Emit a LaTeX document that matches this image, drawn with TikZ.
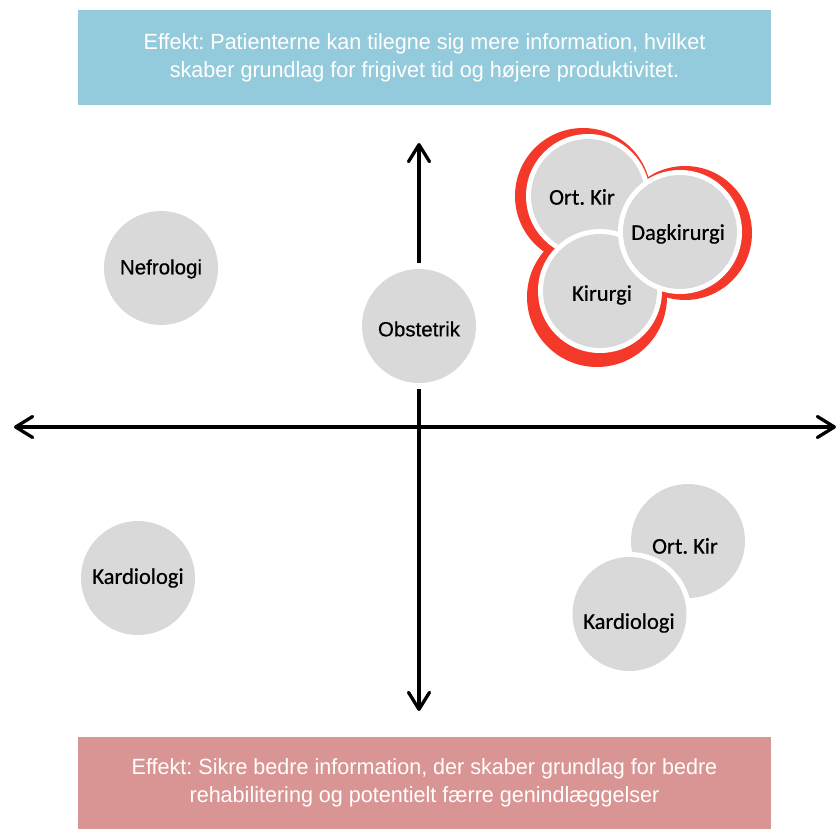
\documentclass[tikz,border=0pt]{standalone}
\usepackage{fontspec}
\setmainfont{Carlito}
\newfontfamily\labelfont{Carlito}[FakeBold=0.5]
\newfontfamily\grotesk{Liberation Sans}[FakeBold=0.5]
\newfontfamily\boxfont{Liberation Sans}[FakeStretch=0.98]
\usetikzlibrary{arrows.meta}
\frenchspacing

\definecolor{topbox}{HTML}{93CBDC}
\definecolor{botbox}{HTML}{D89594}
\definecolor{bubble}{HTML}{D9D9D9}
\definecolor{ring}{HTML}{F4392B}

\tikzset{
  effectbox/.style={fill=#1, draw=none, minimum width=693pt, inner sep=0pt,
    text=white, align=center, font=\boxfont\fontsize{22}{28}\selectfont},
  axis/.style={line width=3.3pt, line cap=round,
    {Straight Barb[length=17pt,width=21pt,line join=round,line cap=round]}-{Straight Barb[length=17pt,width=21pt,line join=round,line cap=round]}},
  bubblenode/.style={circle, fill=bubble, draw=none, minimum size=114pt, inner sep=0pt},
  lbl/.style={font=\labelfont\fontsize{22.5}{26}\selectfont, text=black, inner sep=0pt},
  glbl/.style={font=\grotesk\fontsize{20.5}{24}\selectfont, text=black, inner sep=0pt},
}

\begin{document}
\begin{tikzpicture}[x=1pt, y=-1pt]
  \useasboundingbox (0,0) rectangle (838,829);

  % effect boxes
  \node[effectbox=topbox, minimum height=95pt] (top) at (424.5,57.5)
    {Effekt: Patienterne kan tilegne sig mere information, hvilket\\skaber grundlag for frigivet tid og højere produktivitet.};
  \node[effectbox=botbox, minimum height=92pt] (bot) at (424.5,783)
    {Effekt: Sikre bedre information, der skaber grundlag for bedre\\rehabilitering og potentielt færre genindlæggelser};

  % axes
  \coordinate (xl) at (14,427);
  \coordinate (xr) at (836,427);
  \coordinate (yt) at (419,143);
  \coordinate (yb) at (419,711);
  \draw[axis] (xl) -- (xr);
  \draw[axis] (yb) -- (yt);

  % single bubbles
  \node[bubblenode] (nef) at (161,268) {};
  \node[glbl] at (161,269) {Nefrologi};
  \node[bubblenode] (kardL) at (138,578) {};
  \node[lbl] at (kardL.center) {Kardiologi};

  % obstetrics bubble sits on the vertical axis with a white halo
  \fill[white] (419,326) circle (63pt);
  \node[bubblenode] (obs) at (419,326) {};
  \node[glbl] at (419,329) {Obstetrik};

  % lower right pair
  \node[bubblenode] (ortB) at (688,541) {};
  \node[lbl] at (685,546) {Ort. Kir};
  \fill[white] (629.5,614) circle (62pt);
  \node[bubblenode] (kardB) at (629.5,614) {};
  \node[lbl] at (629,623) {Kardiologi};

  % upper right cluster with red outline
  \fill[ring] (583,196) circle (68pt);
  \fill[ring] (685,233) circle (67pt);
  \fill[ring] (597,297) circle (70pt);
  \fill[white] (588,196) circle (62pt);
  \node[bubblenode] (ortA) at (588,196) {};
  \node[lbl] at (582,197) {Ort. Kir};
  \fill[white] (600,291) circle (62pt);
  \node[bubblenode] (kir) at (600,291) {};
  \node[lbl] at (602,295) {Kirurgi};
  \fill[white] (680,232) circle (62pt);
  \node[bubblenode] (dag) at (680,232) {};
  \node[lbl] at (678,234) {Dagkirurgi};
\end{tikzpicture}
\end{document}
